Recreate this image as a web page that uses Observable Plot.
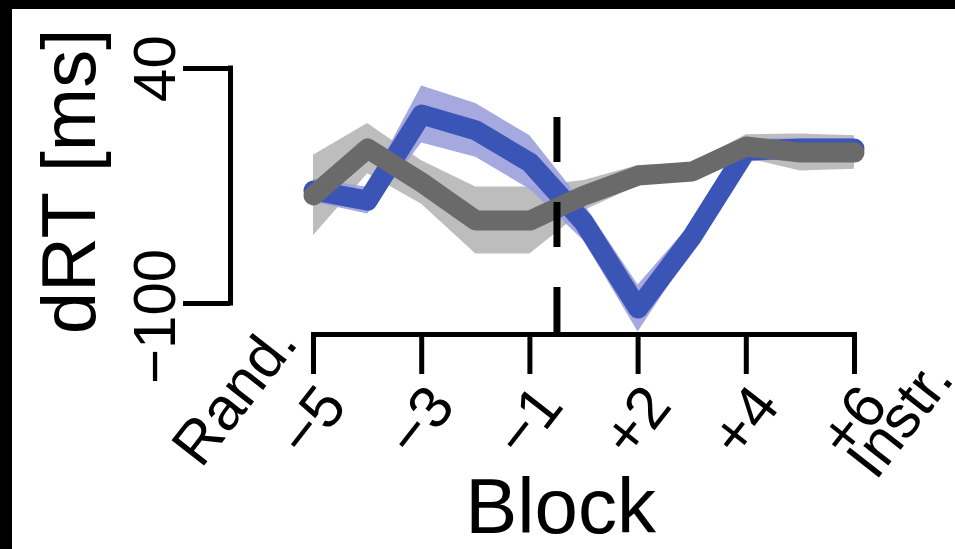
<!DOCTYPE html>
<html>
<head>
<meta charset="utf-8">
<script src="https://cdn.jsdelivr.net/npm/d3@7"></script>
<script src="https://cdn.jsdelivr.net/npm/@observablehq/plot@0.6"></script>
<style>
  html, body { margin: 0; padding: 0; background: #fff; }
  #wrap { position: relative; width: 955px; height: 549px; overflow: hidden; background: #fff; }
  #wrap svg { position: absolute; left: 0; top: 0; }
  .bar { position: absolute; background: #000; z-index: 5; }
</style>
</head>
<body>
<div id="wrap">
  <div class="bar" style="left:0;top:0;width:955px;height:9px;"></div>
  <div class="bar" style="left:0;top:0;width:12px;height:549px;"></div>
</div>
<script>
// Blocks relative to the switch (index = position on the x axis)
const blocks = ["−5", "−4", "−3", "−2", "−1", "+1", "+2", "+3", "+4", "+5", "+6"];

// Blue condition: mean dRT [ms] and SEM
const blueMean = [-32.7, -38.7, 12.6, 3.1, -16.0, -51.8, -103.0, -60.1, -8.9, -7.7, -7.7];
const blueSem  = [7, 8, 17, 16, 16, 11, 14, 8, 7, 6, 6];

// Gray condition: mean dRT [ms] and SEM
const grayMean = [-35.7, -7.7, -27.9, -50.6, -50.6, -35.7, -23.8, -21.4, -6.5, -10.1, -10.1];
const graySem  = [24, 15, 13, 20, 20, 9, 6, 5, 7, 11, 10];

// Axis labels
const xTickLabels = ["−5", "−3", "−1", "+2", "+4", "+6"];
const yTicks = [-100, 40];
const firstLabel = "Rand.";
const lastLabel = "Instr.";
const xTitle = "Block";
const yTitle = "dRT [ms]";
const switchPos = 4.5; // between −1 and +1

const blueData = blocks.map((b, i) => ({i, mean: blueMean[i], lo: blueMean[i] - blueSem[i], hi: blueMean[i] + blueSem[i]}));
const grayData = blocks.map((b, i) => ({i, mean: grayMean[i], lo: grayMean[i] - graySem[i], hi: grayMean[i] + graySem[i]}));
const xTicks = xTickLabels.map(l => blocks.indexOf(l));

const font = "'Liberation Sans', Arial, Helvetica, sans-serif";
const txt = {fill: "#000", lineAnchor: "middle"};

const chart = Plot.plot({
  width: 955,
  height: 549,
  marginLeft: 313,
  marginRight: 101,
  marginTop: 43,
  marginBottom: 215,
  x: {domain: [0, 10]},
  y: {domain: [-118.5, 54.9]},
  style: {fontFamily: font, background: "transparent", overflow: "visible", color: "#000"},
  marks: [
    // SEM bands
    Plot.areaY(grayData, {x: "i", y1: "lo", y2: "hi", fill: "#bdbdbd"}),
    Plot.areaY(blueData, {x: "i", y1: "lo", y2: "hi", fill: "#9ca0dc", fillOpacity: 0.9}),
    // mean lines
    Plot.lineY(blueData, {x: "i", y: "mean", stroke: "#3a55b6", strokeWidth: 20, strokeLinejoin: "round", strokeLinecap: "round"}),
    Plot.lineY(grayData, {x: "i", y: "mean", stroke: "#6a6a6a", strokeWidth: 20, strokeLinejoin: "round", strokeLinecap: "round"}),
    // switch marker
    Plot.ruleX([switchPos], {y1: 10.8, y2: -118.5, stroke: "#000", strokeWidth: 7, strokeDasharray: "45,40"}),
    // x axis
    Plot.frame({anchor: "bottom", stroke: "#000", strokeWidth: 5, strokeLinecap: "square"}),
    Plot.axisX({ticks: xTicks, tickSize: 40, tickFormat: () => "", label: null, strokeWidth: 5}),
    Plot.text(xTicks, {...txt, x: d => d, frameAnchor: "bottom", text: (d, k) => xTickLabels[k], rotate: -52, textAnchor: "end", dx: 20, dy: 60, fontSize: 60}),
    Plot.text([firstLabel], {...txt, x: () => 0, frameAnchor: "bottom", text: d => d, rotate: -52, textAnchor: "end", dx: -29, dy: -3, fontSize: 60}),
    Plot.text([lastLabel], {...txt, x: () => blocks.length - 1, frameAnchor: "bottom", text: d => d, rotate: -52, textAnchor: "end", dx: 86, dy: 33, fontSize: 60}),
    Plot.text([xTitle], {...txt, frameAnchor: "bottom", text: d => d, textAnchor: "middle", dx: -23.5, dy: 174, fontSize: 78}),
    // y axis (offset bracket)
    Plot.ruleX([0], {y1: yTicks[0], y2: yTicks[1], dx: -83, stroke: "#000", strokeWidth: 5, strokeLinecap: "square"}),
    Plot.axisY({ticks: yTicks, tickSize: 47, dx: -83, tickFormat: () => "", label: null, strokeWidth: 5}),
    Plot.text([yTicks[1]], {...txt, x: () => 0, y: d => d, text: d => String(d), rotate: -90, textAnchor: "middle", dx: -158, fontSize: 60}),
    Plot.text([yTicks[0]], {...txt, x: () => 0, y: d => d, text: d => "−" + Math.abs(d), rotate: -90, textAnchor: "middle", dx: -158, dy: 13, fontSize: 60}),
    Plot.text([yTitle], {...txt, frameAnchor: "left", text: d => d, rotate: -90, textAnchor: "middle", dx: -243, dy: -7.5, fontSize: 76})
  ]
});

document.getElementById("wrap").appendChild(chart);
</script>
</body>
</html>
